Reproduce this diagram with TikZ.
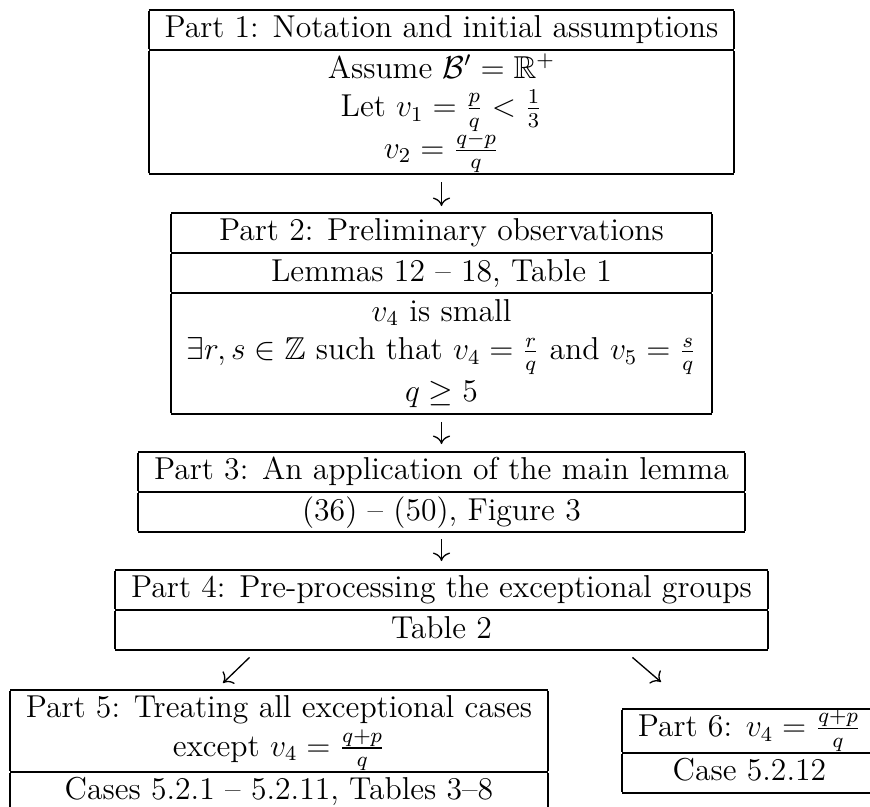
\documentclass[tikz,border=0pt]{standalone}
\usepackage{amsmath,amssymb}
\usetikzlibrary{calc,arrows.meta}
\setlength{\arrayrulewidth}{0.75pt}
\begin{document}
\begin{tikzpicture}[x=0.379pt,y=-0.379pt,
  part/.style={inner sep=0pt, outer sep=0pt, font=\fontsize{12}{14.5}\selectfont},
  arr/.style={-{To[length=3.2pt,width=6.5pt]}, line width=0.5pt}]
\useasboundingbox (0,0) rectangle (870,807);

\node[part, anchor=north] (p1) at (441.5,9) {%
\begin{tabular}{|c|}\hline
Part 1: Notation and initial assumptions \\ \hline
Assume $\mathcal{B}' = \mathbb{R}^+$ \\
Let $v_1 = \frac{p}{q} < \frac{1}{3}$ \\
$v_2 = \frac{q-p}{q}$ \\ \hline
\end{tabular}};

\node[part, anchor=north] (p2) at (441.5,212) {%
\begin{tabular}{|c|}\hline
Part 2: Preliminary observations \\ \hline
Lemmas 12 -- 18, Table 1 \\ \hline
$v_4$ is small \\
$\exists r,s\in\mathbb{Z}$ such that $v_4=\frac{r}{q}$ and $v_5=\frac{s}{q}$ \\
$q\geq 5$ \\ \hline
\end{tabular}};

\node[part, anchor=north] (p3) at (441.5,451) {%
\begin{tabular}{|c|}\hline
Part 3: An application of the main lemma \\ \hline
(36) -- (50), Figure 3 \\ \hline
\end{tabular}};

\node[part, anchor=north] (p4) at (441.5,569) {%
\begin{tabular}{|c|}\hline
Part 4: Pre-processing the exceptional groups \\ \hline
Table 2 \\ \hline
\end{tabular}};

\node[part, anchor=north west] (p5) at (10,689) {%
\begin{tabular}{|c|}\hline
Part 5: Treating all exceptional cases \\
except $v_4 = \frac{q+p}{q}$ \\ \hline
Cases 5.2.1 -- 5.2.11, Tables 3--8 \\[1pt] \hline
\end{tabular}};

\node[part, anchor=north west] (p6) at (622,708) {%
\begin{tabular}{|c|}\hline
Part 6: $v_4 = \frac{q+p}{q}$ \\ \hline
Case 5.2.12 \\ \hline
\end{tabular}};

\draw[arr] ($(p1.south)+(0,7)$) -- ($(p2.north)+(0,-6)$);
\draw[arr] ($(p2.south)+(0,7)$) -- ($(p3.north)+(0,-7)$);
\draw[arr] ($(p3.south)+(0,6)$) -- ($(p4.north)+(0,-8)$);
\draw[arr] ($(p4.south)+(-192,6)$) -- ($(p5.north west)+(213,-6)$);
\draw[arr] ($(p4.south)+(191,6)$) -- ($(p6.north west)+(39,-26)$);
\end{tikzpicture}
\end{document}
